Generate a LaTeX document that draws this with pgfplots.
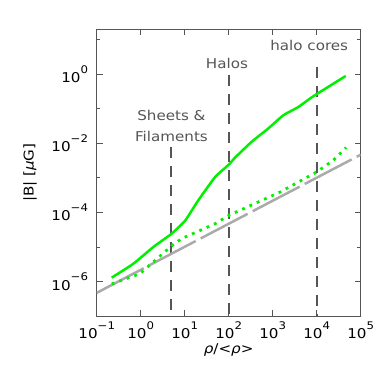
\documentclass[border=0pt]{standalone}
\usepackage{fontspec}
\setmainfont{DejaVu Sans}[FakeStretch=1.12]
\usepackage{pgfplots}
\pgfplotsset{compat=1.18}
\definecolor{lgreen}{HTML}{00F000}
\definecolor{lgray}{HTML}{AAAAAA}
\definecolor{dgray}{HTML}{555555}
\newcommand\msize{\fontsize{13.5}{16}\selectfont}
\newcommand\tp[1]{10\raisebox{9.5pt}{\fontsize{10.5}{12}\selectfont #1}}
\begin{document}
\begin{tikzpicture}
\useasboundingbox (0,0) rectangle (390pt,374pt);
\begin{axis}[
  at={(96.7pt,58pt)}, anchor=south west,
  width=264pt, height=286.7pt, scale only axis,
  xmode=log, ymode=log,
  xmin=0.1, xmax=1e5, ymin=1e-7, ymax=20,
  xtick={0.1,1,10,100,1000,10000,100000},
  xticklabels={\tp{−1},\tp{0},\tp{1},\tp{2},\tp{3},\tp{4},\tp{5}},
  ytick={1e-6,1e-4,1e-2,1},
  yticklabels={\tp{−6},\tp{−4},\tp{−2},\tp{0}},
  minor ytick={1e-7,1e-5,1e-3,0.1,10},
  xminorticks=false,
  tick align=inside,
  major tick length=6pt, minor tick length=3.5pt,
  axis line style={draw=dgray, line width=0.8pt},
  every tick/.style={draw=dgray, line width=0.8pt},
  xticklabel style={inner sep=0pt, yshift=-5.5pt, font=\msize},
  yticklabel style={inner sep=0pt, xshift=-8.5pt, font=\msize},
  xlabel={\textit{ρ}/<\textit{ρ}>},
  ylabel={|B| [\textit{μ}G]},
  xlabel style={font=\msize, at={(axis description cs:0.5,-0.1186)}, anchor=center},
  ylabel style={font=\msize, at={(axis description cs:-0.2526,0.5)}, anchor=center},
  clip=true,
]
% vertical dashed markers
\addplot[dgray, line width=2pt, dash pattern=on 11pt off 8pt] coordinates {(5,7.8e-3) (5,1e-7)};
\addplot[dgray, line width=2pt, dash pattern=on 11pt off 8pt] coordinates {(100,0.93) (100,1e-7)};
\addplot[dgray, line width=2pt, dash pattern=on 11pt off 8pt] coordinates {(10000,1.63) (10000,1e-7)};
% gray reference line
\addplot[lgray, line width=2.5pt, dash pattern=on 53pt off 5.7pt] coordinates {(0.1,4.68e-7) (1e5,4.68e-3)};
% dotted green
\addplot[lgreen, line width=2.8pt, dash pattern=on 2.8pt off 5.2pt] coordinates {
(0.219,8.51e-7) (0.955,1.66e-6) (5.25,1.12e-5) (8.51,1.74e-5) (49.0,4.68e-5)
(100,8.13e-5) (1479,3.89e-4) (10000,1.48e-3) (23988,3.24e-3) (46774,7.59e-3)};
% solid green
\addplot[lgreen, line width=2.5pt, smooth, tension=0.3] coordinates {
(0.219,1.29e-6) (0.676,3.24e-6) (1.95,1.0e-5) (5.01,2.40e-5) (10.2,5.75e-5)
(20.4,2.24e-4) (49.0,1.05e-3) (100,2.40e-3) (138,3.80e-3) (331,1.10e-2)
(794,2.69e-2) (1738,6.46e-2) (3802,0.112) (8318,0.229) (45709,0.891)};
\node[anchor=base, text=dgray, font=\msize, inner sep=0pt] at (axis cs:5,0.0465) {Sheets \&};
\node[anchor=base, text=dgray, font=\msize, inner sep=0pt] at (axis cs:5,0.01096) {Filaments};
\node[anchor=base, text=dgray, font=\msize, inner sep=0pt] at (axis cs:91,1.46) {Halos};
\node[anchor=base, text=dgray, font=\msize, inner sep=0pt] at (axis cs:6760,4.73) {halo cores};
\end{axis}
\end{tikzpicture}
\end{document}
